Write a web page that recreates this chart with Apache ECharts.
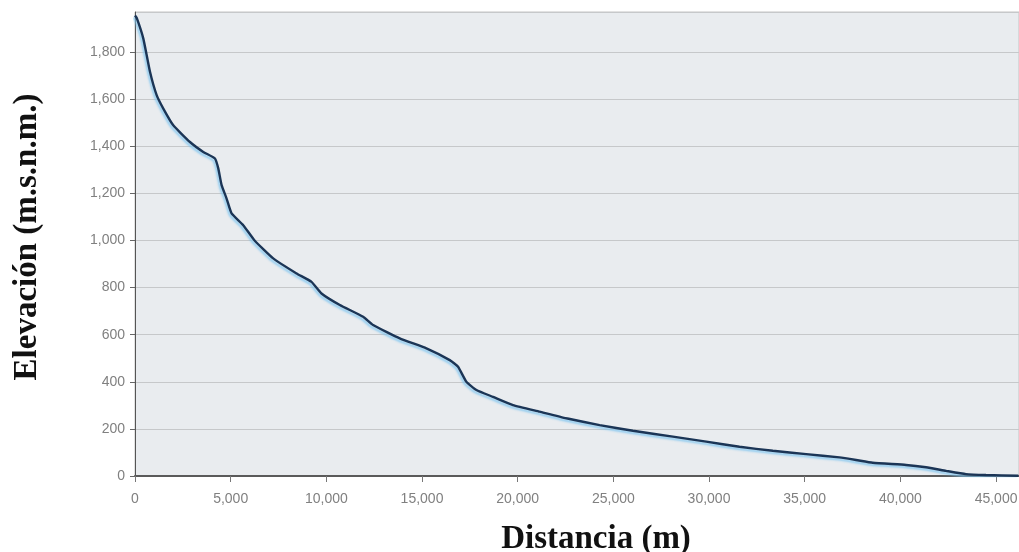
<!DOCTYPE html>
<html>
<head>
<meta charset="utf-8">
<script src="https://cdn.jsdelivr.net/npm/echarts@6/dist/echarts.min.js"></script>
<style>
  html, body { margin: 0; padding: 0; background: #ffffff; }
  #chart { width: 1019px; height: 552px; }
</style>
</head>
<body>
<div id="chart"></div>
<script>
// Longitudinal profile: distance along the channel (m) vs elevation (m a.s.l.)
const distancia = [0, 90, 435, 783, 1131, 1479, 2000, 2872, 3567, 4178, 4352, 4526, 4786, 5047,
  5656, 6250, 7224, 8442, 9225, 9747, 10705, 11922, 12444, 13838, 15230, 16450, 16883, 17319,
  17843, 18710, 19755, 21150, 22543, 24283, 26022, 28110, 29853, 31593, 33334, 35075, 36815,
  37686, 38557, 40297, 41342, 42387, 43430, 44475, 46165];
const elevacion = [1955, 1945, 1857, 1716, 1617, 1560, 1489, 1418, 1376, 1348, 1306, 1235, 1178, 1115,
  1065, 1000, 924, 860, 824, 775, 726, 676, 641, 584, 542, 492, 464, 400,
  365, 336, 301, 273, 245, 216, 192, 167, 146, 124, 107, 93, 79,
  68, 56, 47, 37, 22, 8, 4, 1];

const xTitle = 'Distancia (m)';
const yTitle = 'Elevación (m.s.n.m.)';

const perfil = distancia.map((d, i) => [d, elevacion[i]]);
const fmt = v => Math.round(v).toLocaleString('en-US');

const chart = echarts.init(document.getElementById('chart'), null, { renderer: 'canvas' });
chart.setOption({
  animation: false,
  grid: {
    left: 135, top: 12, right: 0, bottom: 76,
    outerBoundsMode: 'none',
    show: true, backgroundColor: '#e9ecef',
    borderColor: '#c4c4c4', borderWidth: 1
  },
  xAxis: {
    type: 'value', min: 0, max: 46200, interval: 5000,
    name: xTitle, nameLocation: 'middle', nameGap: 47,
    nameTextStyle: {
      fontFamily: 'Liberation Serif', fontWeight: 'bold', fontSize: 33, color: '#111',
      padding: [0, 0, 0, 38]
    },
    axisLine: { show: true, onZero: false, lineStyle: { color: '#5a5a5a', width: 2 } },
    axisTick: { show: true, length: 6, lineStyle: { color: '#777' } },
    axisLabel: {
      margin: 16, color: '#808080', fontFamily: 'Liberation Sans', fontSize: 14,
      showMaxLabel: false, formatter: fmt
    },
    splitLine: { show: false }
  },
  yAxis: {
    type: 'value', min: 0, max: 1970, interval: 200,
    name: yTitle, nameLocation: 'middle', nameGap: 91,
    nameTextStyle: {
      fontFamily: 'Liberation Serif', fontWeight: 'bold', fontSize: 33, color: '#111',
      padding: [0, 0, 0, 14]
    },
    axisLine: { show: true, onZero: false, lineStyle: { color: '#555', width: 1 } },
    axisTick: { show: true, length: 5, lineStyle: { color: '#666' } },
    axisLabel: {
      margin: 10, color: '#808080', fontFamily: 'Liberation Sans', fontSize: 14,
      showMaxLabel: false, formatter: fmt
    },
    splitLine: { show: true, lineStyle: { color: '#c6c8ca', width: 1 } }
  },
  series: [{
    type: 'line',
    data: perfil,
    showSymbol: false,
    smooth: 0.15,
    lineStyle: {
      color: '#1b3556', width: 2.4,
      shadowColor: 'rgba(120, 195, 240, 0.75)', shadowBlur: 2,
      shadowOffsetX: -1.5, shadowOffsetY: 2
    }
  }]
});
</script>
</body>
</html>
